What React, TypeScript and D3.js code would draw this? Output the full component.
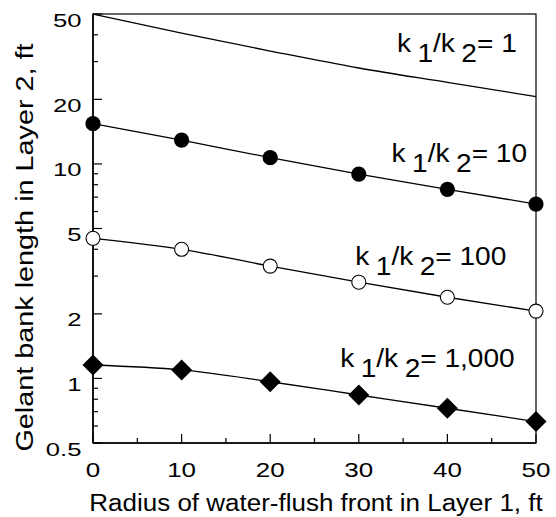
import React from "react";
import * as d3 from "d3";

const radius = [0, 10, 20, 30, 40, 50];
const ratio1 = [50, 40.7, 33.6, 28, 24, 20.6];
const ratio10 = [15.4, 12.9, 10.7, 8.97, 7.61, 6.5];
const ratio100 = [4.5, 4.0, 3.34, 2.81, 2.39, 2.06];
const ratio1000 = [1.155, 1.095, 0.965, 0.837, 0.726, 0.629];

const xMajor = [0, 10, 20, 30, 40, 50];
const xMinor = [5, 15, 25, 35, 45];
const yMajor = [0.5, 1, 2, 5, 10, 20, 50];
const yMajorLabels = ["0.5", "1", "2", "5", "10", "20", "50"];
const yMinor = [0.6, 0.7, 0.8, 0.9, 3, 4, 6, 7, 8, 9, 30, 40];

const xTitle = "Radius of water-flush front in Layer 1, ft";
const yTitle = "Gelant bank length in Layer 2, ft";
const labelRatios = ["1", "10", "100", "1,000"];

const W = 556, H = 517;
const M = { left: 93, right: 536, top: 14, bottom: 443 };
const FONT = "'Liberation Sans', Arial, Helvetica, sans-serif";

export default function App() {
  const x = d3.scaleLinear().domain([0, 50]).range([M.left, M.right]);
  const y = d3.scaleLog().domain([0.5, 50]).range([M.bottom, M.top]);
  const line = d3
    .line<[number, number]>()
    .x((d) => x(d[0]))
    .y((d) => y(d[1]))
    .curve(d3.curveMonotoneX);
  const pts = (vals: number[]) => radius.map((r, i) => [r, vals[i]] as [number, number]);

  const series = [ratio1, ratio10, ratio100, ratio1000];
  const annot: [number, number][] = [
    [34.3, 33.3],
    [33.7, 10.2],
    [29.6, 3.38],
    [27.9, 1.134],
  ];

  const diamond = (cx: number, cy: number, s: number) =>
    `M${cx},${cy - s}L${cx + s},${cy}L${cx},${cy + s}L${cx - s},${cy}Z`;

  return (
    <svg
      width={W}
      height={H}
      style={{ position: "absolute", left: 0, top: 0, background: "#fff" }}
      fontFamily={FONT}
    >
      <rect x={0} y={0} width={W} height={H} fill="#fff" />
      <rect
        x={M.left}
        y={M.top}
        width={M.right - M.left}
        height={M.bottom - M.top}
        fill="none"
        stroke="#000"
        strokeWidth={1.2}
      />
      <line x1={M.left} x2={M.left} y1={M.top} y2={M.bottom} stroke="#000" strokeWidth={1.6} />
      <line x1={M.left} x2={M.right} y1={M.bottom} y2={M.bottom} stroke="#000" strokeWidth={1.6} />

      {yMajor.map((v, i) => (
        <g key={"ym" + i}>
          <line x1={M.left} x2={M.left + 9} y1={y(v)} y2={y(v)} stroke="#000" strokeWidth={1.2} />
          <text
            transform={`translate(81.5,${y(v) + 12.5}) scale(1.35,1)`}
            textAnchor="end"
            fontSize={19}
          >
            {yMajorLabels[i]}
          </text>
        </g>
      ))}
      {yMinor.map((v, i) => (
        <line key={"yn" + i} x1={M.left} x2={M.left + 5} y1={y(v)} y2={y(v)} stroke="#000" strokeWidth={1.2} />
      ))}

      {xMajor.map((v, i) => (
        <g key={"xm" + i}>
          <line x1={x(v)} x2={x(v)} y1={M.bottom} y2={M.bottom - 9} stroke="#000" strokeWidth={1.2} />
          <text
            transform={`translate(${x(v)},477) scale(1.3,1)`}
            textAnchor="middle"
            fontSize={20}
          >
            {String(v)}
          </text>
        </g>
      ))}
      {xMinor.map((v, i) => (
        <line key={"xn" + i} x1={x(v)} x2={x(v)} y1={M.bottom} y2={M.bottom - 5} stroke="#000" strokeWidth={1.2} />
      ))}

      <text
        transform={`translate(316,510.5) scale(1.13,1)`}
        textAnchor="middle"
        fontSize={23}
      >
        {xTitle}
      </text>
      <text
        transform={`translate(33,${(M.top + M.bottom) / 2 + 19}) rotate(-90) scale(1.2,1)`}
        textAnchor="middle"
        fontSize={24}
      >
        {yTitle}
      </text>

      {series.map((s, i) => (
        <path key={"l" + i} d={line(pts(s)) || ""} fill="none" stroke="#000" strokeWidth={1.3} />
      ))}

      {pts(ratio10).map((p, i) => (
        <circle key={"c10" + i} cx={x(p[0])} cy={y(p[1])} r={7.6} fill="#000" />
      ))}
      {pts(ratio100).map((p, i) => (
        <circle key={"c100" + i} cx={x(p[0])} cy={y(p[1])} r={7} fill="#fff" stroke="#000" strokeWidth={1.1} />
      ))}
      {pts(ratio1000).map((p, i) => (
        <path key={"d" + i} d={diamond(x(p[0]), y(p[1]), 10.5)} fill="#000" />
      ))}

      {annot.map((a, i) => (
        <text
          key={"a" + i}
          transform={`translate(${x(a[0])},${y(a[1])}) scale(1.08,1)`}
          fontSize={26}
        >
          <tspan>k</tspan>
          <tspan dx={6} dy={10}>1</tspan>
          <tspan dy={-10}>/k</tspan>
          <tspan dx={6} dy={10}>2</tspan>
          <tspan dy={-10}>{"= " + labelRatios[i]}</tspan>
        </text>
      ))}
    </svg>
  );
}
